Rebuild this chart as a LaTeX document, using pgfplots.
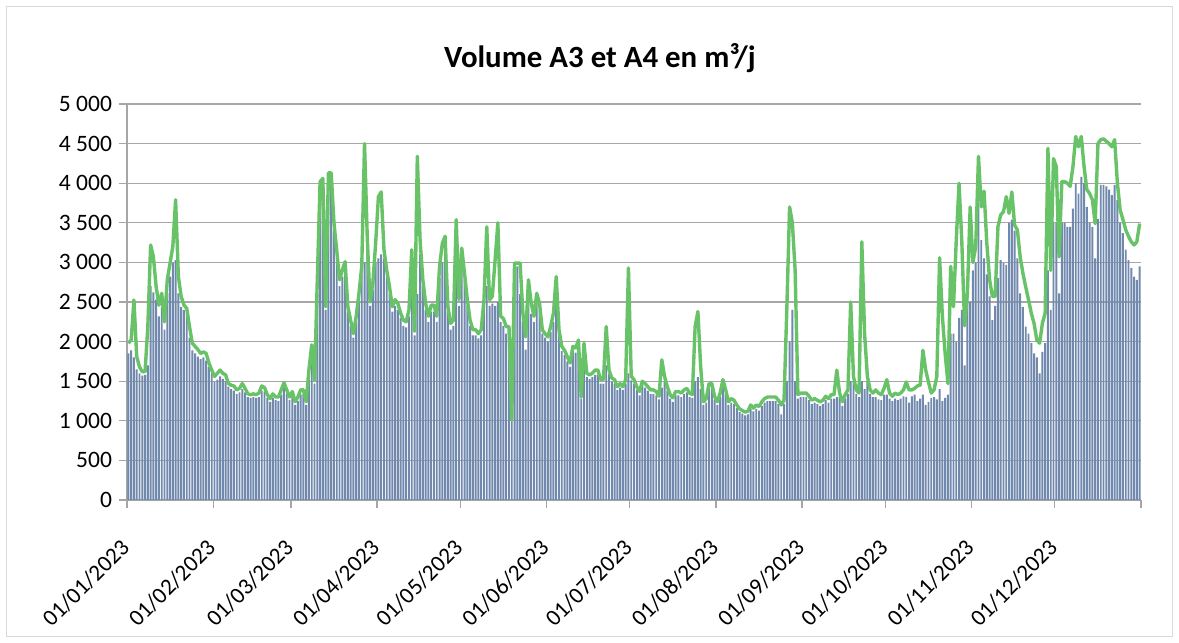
\documentclass[border=0pt]{standalone}
\usepackage{fontspec}
\setmainfont{Carlito}
\usepackage{pgfplots}
\usepackage{pgfplotstable}
\pgfplotsset{compat=1.18}
\definecolor{barfill}{HTML}{7089AD}
\definecolor{linegreen}{HTML}{68C268}
\definecolor{gridgray}{HTML}{A6A6A6}

% d = day of 2023 (0 = 01/01), B = bars, L = green line
\pgfplotstableread{
d B L
0 1850 1980
1 1890 2020
2 1800 2525
3 1650 1810
4 1600 1680
5 1570 1620
6 1580 1620
7 1700 2190
8 2700 3220
9 2620 3070
10 2530 2690
11 2320 2460
12 2440 2610
13 2150 2250
14 2610 2780
15 2820 2990
16 2990 3200
17 3030 3790
18 2610 2820
19 2440 2570
20 2400 2460
21 2360 2420
22 2050 2190
23 1890 1980
24 1850 1940
25 1810 1900
26 1780 1850
27 1800 1870
28 1760 1850
29 1680 1730
30 1600 1640
31 1490 1560
32 1520 1600
33 1560 1640
34 1530 1600
35 1500 1580
36 1430 1470
37 1400 1450
38 1380 1440
39 1340 1390
40 1360 1410
41 1400 1470
42 1360 1410
43 1300 1340
44 1290 1330
45 1300 1340
46 1290 1330
47 1300 1350
48 1380 1440
49 1370 1420
50 1290 1330
51 1240 1280
52 1290 1340
53 1260 1300
54 1250 1300
55 1330 1390
56 1420 1480
57 1340 1390
58 1260 1300
59 1320 1370
60 1200 1240
61 1250 1300
62 1330 1390
63 1340 1390
64 1200 1240
65 1590 1650
66 1900 1960
67 1470 1510
68 2600 2780
69 3900 4020
70 3980 4060
71 2400 2440
72 4050 4130
73 4050 4130
74 3400 3500
75 3050 3150
76 2700 2780
77 2820 2900
78 2900 3010
79 2380 2440
80 2200 2270
81 2050 2100
82 2250 2320
83 2500 2610
84 2850 2950
85 3000 4500
86 3200 3300
87 2450 2500
88 2650 2740
89 3000 3240
90 3050 3830
91 3100 3890
92 3050 3160
93 2800 2900
94 2600 2690
95 2380 2440
96 2450 2530
97 2400 2480
98 2300 2360
99 2200 2270
100 2180 2250
101 2320 2400
102 2900 3160
103 2080 2130
104 2600 4340
105 3100 3280
106 2700 2780
107 2400 2480
108 2250 2320
109 2380 2460
110 2380 2460
111 2250 2320
112 2800 2950
113 3000 3240
114 3150 3330
115 2380 2440
116 2150 2230
117 2200 2270
118 2900 3540
119 2450 2530
120 3000 3180
121 2780 2860
122 2450 2530
123 2200 2270
124 2080 2150
125 2080 2150
126 2040 2100
127 2080 2150
128 2450 2530
129 2700 3450
130 2450 2530
131 2480 2570
132 2450 3030
133 2500 3500
134 2250 2320
135 2200 2290
136 2100 2190
137 2120 2190
138 1900 1010
139 2950 2990
140 2950 2990
141 2600 2990
142 2250 2360
143 1900 2060
144 2700 2780
145 2350 2480
146 2250 2320
147 2500 2610
148 2400 2480
149 2100 2150
150 2050 2100
151 2000 2060
152 2120 2190
153 2250 2360
154 2600 2820
155 2100 2150
156 1880 1940
157 1830 1890
158 1750 1810
159 1680 1730
160 1880 1940
161 1860 1920
162 1950 2020
163 1280 1300
164 1900 1980
165 1550 1600
166 1530 1580
167 1550 1600
168 1580 1640
169 1580 1640
170 1470 1520
171 1470 1520
172 1700 2190
173 1590 1640
174 1490 1540
175 1470 1520
176 1390 1430
177 1420 1470
178 1390 1430
179 1470 1520
180 1600 2930
181 1510 1560
182 1470 1520
183 1390 1430
184 1320 1370
185 1450 1500
186 1420 1470
187 1380 1430
188 1340 1390
189 1340 1390
190 1320 1370
191 1270 1310
192 1420 1770
193 1500 1560
194 1380 1430
195 1280 1330
196 1240 1290
197 1320 1370
198 1320 1370
199 1300 1350
200 1340 1390
201 1360 1410
202 1300 1350
203 1290 1330
204 1500 2190
205 1550 2380
206 1400 1680
207 1200 1240
208 1230 1280
209 1420 1470
210 1420 1470
211 1270 1310
212 1200 1240
213 1300 1350
214 1470 1520
215 1340 1390
216 1200 1240
217 1230 1280
218 1210 1260
219 1160 1200
220 1110 1150
221 1090 1130
222 1070 1110
223 1080 1120
224 1150 1200
225 1120 1160
226 1150 1200
227 1130 1180
228 1190 1240
229 1230 1280
230 1250 1300
231 1250 1300
232 1250 1300
233 1250 1300
234 1210 1260
235 1080 1200
236 1210 1260
237 1500 2400
238 2000 3700
239 2400 3500
240 1500 2900
241 1280 1330
242 1300 1350
243 1300 1350
244 1300 1350
245 1260 1310
246 1210 1260
247 1230 1280
248 1210 1260
249 1190 1240
250 1210 1260
251 1260 1310
252 1230 1280
253 1280 1330
254 1280 1330
255 1300 1640
256 1300 1350
257 1190 1240
258 1280 1330
259 1340 1390
260 1500 2500
261 1500 1560
262 1340 1390
263 1300 1350
264 1500 3260
265 1400 2100
266 1500 1560
267 1340 1390
268 1300 1350
269 1300 1390
270 1270 1350
271 1260 1330
272 1330 1410
273 1330 1520
274 1280 1350
275 1250 1310
276 1280 1350
277 1260 1330
278 1280 1350
279 1310 1390
280 1300 1490
281 1230 1390
282 1310 1390
283 1330 1410
284 1250 1440
285 1280 1450
286 1330 1890
287 1200 1640
288 1240 1490
289 1290 1350
290 1300 1390
291 1270 1560
292 1400 3060
293 1250 2320
294 1290 1850
295 1330 1470
296 2100 2950
297 2100 2440
298 2000 3280
299 2300 4000
300 2400 3260
301 1700 2200
302 2500 2600
303 2500 3700
304 2900 3000
305 3000 3200
306 3750 4340
307 3280 3700
308 3050 3900
309 2850 3240
310 2570 2780
311 2270 2570
312 2450 2570
313 2800 3450
314 3030 3600
315 2990 3640
316 2970 3830
317 3500 3620
318 3540 3890
319 3400 3470
320 3050 3410
321 2610 3070
322 2440 2860
323 2190 2690
324 2100 2530
325 1980 2360
326 1850 2230
327 1800 2020
328 1600 1980
329 1870 2230
330 1980 2360
331 2900 4440
332 2400 2900
333 3500 4310
334 3500 4210
335 2610 3070
336 3500 4020
337 3500 4020
338 3450 4000
339 3450 3960
340 3680 4210
341 4000 4590
342 3870 4460
343 4080 4590
344 4000 4210
345 3700 3920
346 3500 3870
347 3450 3790
348 3050 3490
349 3550 4500
350 3980 4550
351 3980 4560
352 3960 4530
353 3920 4500
354 3850 4460
355 3980 4550
356 3790 4000
357 3500 3660
358 3370 3540
359 3160 3410
360 3030 3330
361 2930 3260
362 2820 3220
363 2780 3260
364 2950 3490
}\vol

\begin{document}
\begin{tikzpicture}
\useasboundingbox (-63.5bp,-71.5bp) rectangle (526bp,250bp);
\draw[gray!30, line width=0.5bp] (-60bp,-68bp) rectangle (522.5bp,246.5bp);
\begin{axis}[
  scale only axis, width=507bp, height=198bp,
  xmin=0, xmax=365, ymin=0, ymax=5000,
  xtick={0,31,59,90,120,151,181,212,243,273,304,334,365},
  xticklabels={01/01/2023,01/02/2023,01/03/2023,01/04/2023,01/05/2023,01/06/2023,01/07/2023,01/08/2023,01/09/2023,01/10/2023,01/11/2023,01/12/2023,},
  ytick={0,500,...,5000},
  ymajorgrids, grid style={gridgray, line width=0.6bp},
  axis x line*=bottom, axis y line*=left,
  axis line style={gridgray, line width=0.6bp},
  tick style={gridgray, line width=0.6bp},
  tick align=outside, major tick length=4bp,
  /pgf/number format/assume math mode=true,
  /pgf/number format/1000 sep={\ },
  yticklabel style={font=\fontsize{11.8}{14}\selectfont},
  xticklabel style={font=\fontsize{11.6}{14}\selectfont, rotate=45, anchor=east, inner sep=1bp},
  xticklabel shift=17bp,
  clip=false]
\addplot[ybar, bar width=0.7, bar shift=0pt, fill=barfill, draw=none]
  table[x expr=\thisrow{d}+0.5, y=B] {\vol};
\addplot[linegreen, line width=1.7bp, line join=round, mark=none]
  table[x expr=\thisrow{d}+0.5, y=L] {\vol};
\end{axis}
\node[font=\bfseries\fontsize{15.5}{18}\selectfont, anchor=base] at (236.5bp,216bp) {Volume A3 et A4 en m³/j};
\end{tikzpicture}
\end{document}
